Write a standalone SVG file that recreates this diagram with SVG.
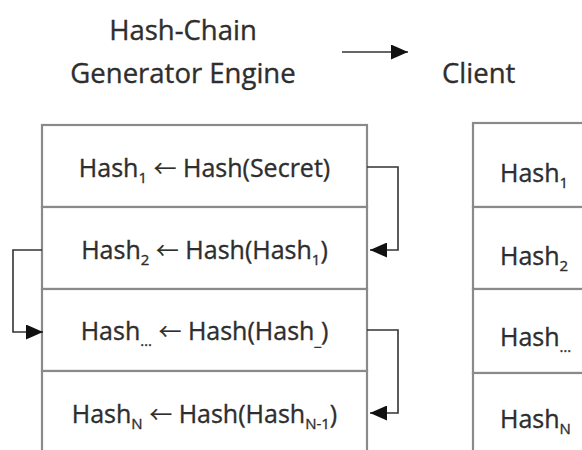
<svg xmlns="http://www.w3.org/2000/svg" width="582" height="450" viewBox="0 0 582 450">
<style>
.t{font-family:"Open Sans","Liberation Sans",sans-serif;fill:#2e2e2e;stroke:#2e2e2e;stroke-width:0.35}
.title{font-size:27.5px}
.row{font-size:25px}
.ar{font-family:"Noto Sans CJK SC","Noto Sans CJK JP",sans-serif;font-size:23px;stroke-width:0.2}
.box{fill:#fff;stroke:#8a8a8a;stroke-width:2.2}
.con{fill:none;stroke:#333;stroke-width:1.6}
</style>
<defs>
<marker id="ah" markerWidth="17" markerHeight="15" refX="17" refY="7.5" orient="auto" markerUnits="userSpaceOnUse">
<path d="M0,0 L17,7.5 L0,15 Z" fill="#111"/>
</marker>
</defs>
<rect width="582" height="450" fill="#fff"/>
<g id="title-engine">
<text class="t title" x="183" y="40" text-anchor="middle">Hash-Chain</text>
<text class="t title" x="183" y="83" text-anchor="middle">Generator Engine</text>
</g>
<g id="title-client">
<text class="t title" x="442" y="83">Client</text>
</g>
<g id="engine">
<rect class="box" x="42" y="125" width="325" height="82"/>
<rect class="box" x="42" y="207" width="325" height="82"/>
<rect class="box" x="42" y="289" width="325" height="82"/>
<rect class="box" x="42" y="371" width="325" height="90"/>
<text class="t row" x="204.5" y="177" text-anchor="middle">Hash<tspan font-size="15" dy="6">1</tspan><tspan dy="-6"> </tspan><tspan class="ar">←</tspan> Hash(Secret)</text>
<text class="t row" x="204.5" y="259" text-anchor="middle">Hash<tspan font-size="15" dy="6">2</tspan><tspan dy="-6"> </tspan><tspan class="ar">←</tspan> Hash(Hash<tspan font-size="15" dy="6">1</tspan><tspan dy="-6">)</tspan></text>
<text class="t row" x="204.5" y="340" text-anchor="middle">Hash<tspan font-size="15" dy="6">…</tspan><tspan dy="-6"> </tspan><tspan class="ar">←</tspan> Hash(Hash<tspan font-size="15" dy="6">_</tspan><tspan dy="-6">)</tspan></text>
<text class="t row" x="204.5" y="423" text-anchor="middle">Hash<tspan font-size="15" dy="6">N</tspan><tspan dy="-6"> </tspan><tspan class="ar">←</tspan> Hash(Hash<tspan font-size="15" dy="6">N-1</tspan><tspan dy="-6">)</tspan></text>
</g>
<g id="client">
<rect class="box" x="473" y="123" width="130" height="84"/>
<rect class="box" x="473" y="207" width="130" height="82"/>
<rect class="box" x="473" y="289" width="130" height="84"/>
<rect class="box" x="473" y="373" width="130" height="90"/>
<text class="t row" x="500" y="182">Hash<tspan font-size="15" dy="6">1</tspan></text>
<text class="t row" x="500" y="265">Hash<tspan font-size="15" dy="6">2</tspan></text>
<text class="t row" x="500" y="346">Hash<tspan font-size="15" dy="6">…</tspan></text>
<text class="t row" x="500" y="428">Hash<tspan font-size="15" dy="6">N</tspan></text>
</g>
<g id="connectors">
<line class="con" x1="342" y1="52" x2="408" y2="52" marker-end="url(#ah)"/>
<polyline class="con" points="367,167 398,167 398,250 370,250" marker-end="url(#ah)"/>
<polyline class="con" points="42,250 13,250 13,332 43,332" marker-end="url(#ah)"/>
<polyline class="con" points="367,330 398,330 398,413 370,413" marker-end="url(#ah)"/>
</g>
</svg>
